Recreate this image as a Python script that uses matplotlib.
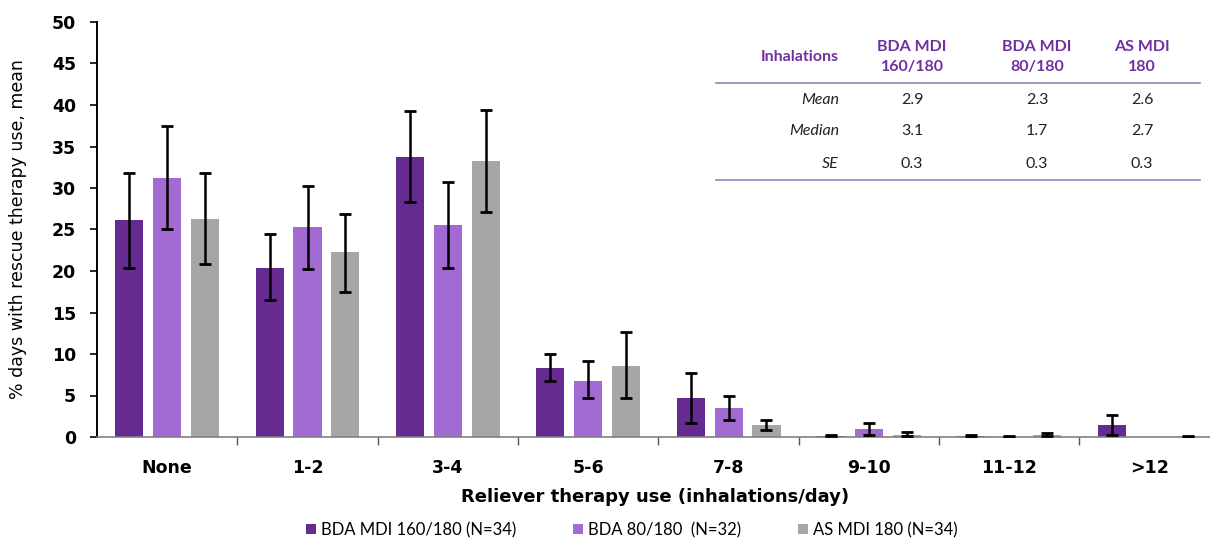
import matplotlib
matplotlib.use("Agg")
import matplotlib.pyplot as plt
from matplotlib.patches import Patch
import numpy as np

categories = ["None", "1-2", "3-4", "5-6", "7-8", "9-10", "11-12", ">12"]
series_names = ["BDA MDI 160/180 (N=34)", "BDA 80/180  (N=32)", "AS MDI 180 (N=34)"]

bda160_mean = [26.1, 20.4, 33.7, 8.3, 4.7, 0.15, 0.1, 1.5]
bda160_upper = [31.8, 24.4, 39.3, 10.0, 7.75, 0.3, 0.3, 2.7]
bda160_lower = [20.4, 16.5, 28.3, 6.75, 1.7, 0.1, 0.05, 0.3]

bda80_mean = [31.25, 25.35, 25.6, 6.8, 3.5, 1.0, 0.05, np.nan]
bda80_upper = [37.5, 30.3, 30.7, 9.1, 5.0, 1.7, 0.15, np.nan]
bda80_lower = [25.0, 20.2, 20.4, 4.7, 2.0, 0.3, 0.05, np.nan]

as_mean = [26.3, 22.25, 33.2, 8.5, 1.5, 0.3, 0.25, 0.05]
as_upper = [31.8, 26.9, 39.4, 12.6, 2.1, 0.55, 0.5, 0.15]
as_lower = [20.85, 17.5, 27.1, 4.7, 0.9, 0.15, 0.1, 0.05]

table_cols = ["BDA MDI\n160/180", "BDA MDI\n80/180", "AS MDI\n180"]
table_rows = ["Mean", "Median", "SE"]
table_vals = [["2.9", "2.3", "2.6"], ["3.1", "1.7", "2.7"], ["0.3", "0.3", "0.3"]]

colors = ["#652B91", "#A36AD2", "#A6A6A6"]
purple_txt = "#7030A0"

fig = plt.figure(figsize=(12.1, 5.41), dpi=100)
ax = fig.add_axes([97/1210, 1-437/541, 1-97/1210, (437-22)/541])

x = np.arange(len(categories))
width = 0.2
offsets = [-0.27, 0.0, 0.27]
data = [(bda160_mean, bda160_upper, bda160_lower),
        (bda80_mean, bda80_upper, bda80_lower),
        (as_mean, as_upper, as_lower)]
for i, (m, up, lo) in enumerate(data):
    m = np.array(m, dtype=float); up = np.array(up, dtype=float); lo = np.array(lo, dtype=float)
    ax.bar(x + offsets[i], m, width, color=colors[i], zorder=2)
    ok = ~np.isnan(m)
    ax.errorbar((x + offsets[i])[ok], m[ok], yerr=[(m - lo)[ok], (up - m)[ok]], fmt="none",
                ecolor="black", elinewidth=1.8, capsize=4, capthick=2, zorder=3)

ax.set_ylim(0, 50)
ax.set_xlim(-0.5, 7.43)
ax.set_yticks(np.arange(0, 51, 5))
ax.tick_params(axis="y", labelsize=12.5, length=5, width=1.2, direction="out", pad=10)
for lab in ax.get_yticklabels():
    lab.set_fontweight("bold")
ax.set_xticks(np.arange(0.5, 7.5, 1.0))
ax.set_xticklabels([])
ax.tick_params(axis="x", length=6, width=1, color="#555555", direction="out")
ax.set_xticks(x, minor=True)
ax.set_xticklabels(categories, minor=True, fontsize=12.5, fontweight="bold",
                   family="DejaVu Sans")
ax.tick_params(axis="x", which="minor", length=0, pad=16)
ax.spines["top"].set_visible(False)
ax.spines["right"].set_visible(False)
ax.spines["left"].set_linewidth(1.4)
ax.spines["bottom"].set_color("#808080")
ax.spines["bottom"].set_linewidth(1.2)

ax.set_ylabel("% days with rescue therapy use, mean", fontsize=12.5, labelpad=18)
fig.text(655/1210, 1-497/541, "Reliever therapy use (inhalations/day)",
         ha="center", va="center", fontsize=13, fontweight="bold")

# Summary table
def fy(py):
    return 1 - py/541
def fx(px):
    return px/1210

tfont = "Lato"
fig.text(fx(839), fy(57), "Inhalations", ha="right", va="center", color=purple_txt,
         fontsize=11.5, fontweight="bold", family=tfont)
col_x = [912, 1037, 1142]
for cx, c in zip(col_x, table_cols):
    fig.text(fx(cx), fy(57), c, ha="center", va="center", color=purple_txt,
             fontsize=11.5, fontweight="bold", family=tfont, linespacing=1.5)
row_y = [100, 131, 164]
for ry, rname, vals in zip(row_y, table_rows, table_vals):
    fig.text(fx(839), fy(ry), rname, ha="right", va="center", color="#222222",
             fontsize=11.5, style="italic", family=tfont)
    for cx, v in zip(col_x, vals):
        fig.text(fx(cx), fy(ry), v, ha="center", va="center", color="#222222",
                 fontsize=11.5, family=tfont)
for ly in [83, 180]:
    fig.add_artist(plt.Line2D([fx(716), fx(1200)], [fy(ly), fy(ly)],
                              color="#9B7FC4", linewidth=1.2))

handles = [Patch(facecolor=c, edgecolor="none") for c in colors]
fig.legend(handles, series_names, loc="center", bbox_to_anchor=(0.522, fy(530)),
           ncol=3, frameon=False, handlelength=0.6, handleheight=0.6,
           handletextpad=0.3, columnspacing=3.4,
           prop={"family": tfont, "size": 12})

fig.savefig("out.png", dpi=100)
